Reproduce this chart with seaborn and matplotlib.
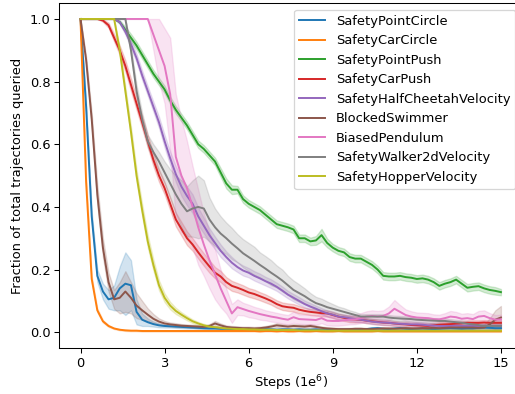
import numpy as np
import pandas as pd
import matplotlib
matplotlib.use("Agg")
import matplotlib.pyplot as plt
import seaborn as sns

# x grid: 0.0, 0.2, ..., 15.0 (76 points), in units of 1e6 steps
steps = [round(0.2 * i, 1) for i in range(76)]

envs = ["SafetyPointCircle", "SafetyCarCircle", "SafetyPointPush", "SafetyCarPush",
        "SafetyHalfCheetahVelocity", "BlockedSwimmer", "BiasedPendulum",
        "SafetyWalker2dVelocity", "SafetyHopperVelocity"]

point_circle = [1.0, 0.72, 0.37, 0.18, 0.13, 0.105, 0.11, 0.14, 0.155, 0.15,
                0.065, 0.04, 0.032, 0.026, 0.022, 0.02, 0.019, 0.018, 0.017, 0.016,
                0.015, 0.014, 0.013, 0.012, 0.012, 0.011, 0.011, 0.010, 0.010, 0.010,
                0.010, 0.009, 0.009, 0.010, 0.009, 0.008, 0.009, 0.009, 0.008, 0.009,
                0.008, 0.008, 0.009, 0.008, 0.008, 0.009, 0.008, 0.008, 0.009, 0.010,
                0.009, 0.010, 0.012, 0.013, 0.011, 0.010, 0.012, 0.013, 0.011, 0.010,
                0.011, 0.012, 0.011, 0.010, 0.011, 0.012, 0.013, 0.012, 0.011, 0.012,
                0.012, 0.014, 0.015, 0.014, 0.013, 0.013]
point_circle_sd = [0.0, 0.01, 0.015, 0.02, 0.025, 0.03, 0.04, 0.07, 0.1, 0.08,
                   0.04, 0.02, 0.012, 0.008, 0.006, 0.005, 0.004, 0.004, 0.004, 0.004,
                   0.003, 0.003, 0.003, 0.003, 0.003, 0.003, 0.003, 0.003, 0.003, 0.003,
                   0.003, 0.003, 0.003, 0.003, 0.003, 0.003, 0.003, 0.003, 0.003, 0.003,
                   0.003, 0.003, 0.003, 0.003, 0.003, 0.003, 0.003, 0.003, 0.003, 0.003,
                   0.003, 0.003, 0.004, 0.004, 0.003, 0.003, 0.003, 0.004, 0.003, 0.003,
                   0.003, 0.003, 0.003, 0.003, 0.003, 0.003, 0.004, 0.004, 0.003, 0.003,
                   0.003, 0.004, 0.004, 0.004, 0.003, 0.003]

car_circle = [1.0, 0.48, 0.17, 0.07, 0.035, 0.02, 0.012, 0.008, 0.006, 0.005,
              0.005, 0.004, 0.004, 0.004, 0.004, 0.004, 0.004, 0.004, 0.004, 0.004,
              0.004, 0.004, 0.004, 0.004, 0.004, 0.004, 0.004, 0.004, 0.004, 0.004,
              0.004, 0.004, 0.003, 0.004, 0.004, 0.003, 0.004, 0.003, 0.003, 0.004,
              0.003, 0.003, 0.004, 0.003, 0.003, 0.003, 0.004, 0.003, 0.003, 0.003,
              0.003, 0.003, 0.003, 0.004, 0.003, 0.003, 0.003, 0.003, 0.003, 0.003,
              0.003, 0.003, 0.003, 0.003, 0.003, 0.003, 0.003, 0.003, 0.003, 0.003,
              0.003, 0.003, 0.003, 0.003, 0.003, 0.003]
car_circle_sd = [0.0, 0.01, 0.01, 0.006, 0.004, 0.003] + [0.002] * 70

point_push = [1.0, 1.0, 1.0, 1.0, 1.0, 1.0, 1.0, 0.99, 0.965, 0.94,
              0.915, 0.885, 0.855, 0.825, 0.8, 0.775, 0.74, 0.71, 0.685, 0.66,
              0.63, 0.6, 0.585, 0.565, 0.545, 0.51, 0.475, 0.455, 0.455, 0.425,
              0.41, 0.4, 0.39, 0.375, 0.36, 0.345, 0.34, 0.335, 0.328, 0.3,
              0.3, 0.29, 0.293, 0.31, 0.285, 0.27, 0.26, 0.255, 0.24, 0.235,
              0.235, 0.225, 0.215, 0.2, 0.18, 0.178, 0.178, 0.18, 0.176, 0.174,
              0.17, 0.172, 0.168, 0.16, 0.148, 0.155, 0.16, 0.168, 0.155, 0.142,
              0.145, 0.147, 0.14, 0.135, 0.132, 0.128]
point_push_sd = [0.0] * 7 + [0.006, 0.01, 0.012,
                 0.012, 0.012, 0.012, 0.012, 0.012, 0.012, 0.012, 0.012, 0.012, 0.012,
                 0.012, 0.012, 0.012, 0.012, 0.012, 0.014, 0.016, 0.014, 0.012, 0.012,
                 0.012, 0.012, 0.012, 0.012, 0.012, 0.012, 0.012, 0.012, 0.012, 0.012,
                 0.012, 0.012, 0.014, 0.02, 0.014, 0.012, 0.012, 0.012, 0.012, 0.012,
                 0.012, 0.012, 0.012, 0.012, 0.012, 0.012, 0.012, 0.012, 0.012, 0.012,
                 0.012, 0.012, 0.012, 0.012, 0.012, 0.012, 0.012, 0.012, 0.012, 0.012,
                 0.012, 0.012, 0.012, 0.012, 0.012, 0.01]

car_push = [1.0, 1.0, 1.0, 1.0, 0.995, 0.98, 0.94, 0.9, 0.85, 0.79,
            0.73, 0.67, 0.61, 0.55, 0.5, 0.46, 0.41, 0.36, 0.33, 0.3,
            0.28, 0.255, 0.232, 0.21, 0.19, 0.178, 0.16, 0.148, 0.142, 0.135,
            0.127, 0.122, 0.115, 0.108, 0.1, 0.09, 0.083, 0.08, 0.078, 0.072,
            0.068, 0.065, 0.063, 0.061, 0.06, 0.055, 0.05, 0.046, 0.042, 0.041,
            0.04, 0.037, 0.035, 0.033, 0.031, 0.03, 0.028, 0.026, 0.025, 0.023,
            0.022, 0.021, 0.02, 0.022, 0.024, 0.025, 0.026, 0.027, 0.028, 0.03,
            0.03, 0.03, 0.031, 0.03, 0.03, 0.03]
car_push_sd = [0.0, 0.0, 0.0, 0.0, 0.004, 0.008, 0.012, 0.015, 0.018, 0.02,
               0.02, 0.02, 0.02, 0.02, 0.02, 0.02, 0.02, 0.022, 0.022, 0.022,
               0.02, 0.02, 0.02, 0.02, 0.018, 0.018, 0.016, 0.016, 0.015, 0.015,
               0.014, 0.014, 0.013, 0.013, 0.012, 0.012, 0.012, 0.012, 0.012, 0.012,
               0.01, 0.01, 0.01, 0.01, 0.01, 0.01, 0.01, 0.01, 0.01, 0.01,
               0.008, 0.008, 0.008, 0.008, 0.008, 0.008, 0.008, 0.008, 0.008, 0.008,
               0.008, 0.008, 0.008, 0.008, 0.008, 0.008, 0.008, 0.008, 0.008, 0.008,
               0.008, 0.008, 0.008, 0.008, 0.008, 0.008]

half_cheetah = [1.0, 1.0, 1.0, 1.0, 1.0, 1.0, 1.0, 0.99, 0.96, 0.92,
                0.875, 0.82, 0.77, 0.72, 0.67, 0.61, 0.555, 0.505, 0.465, 0.435,
                0.41, 0.37, 0.34, 0.31, 0.285, 0.26, 0.24, 0.222, 0.208, 0.197,
                0.19, 0.18, 0.172, 0.163, 0.155, 0.145, 0.133, 0.12, 0.11, 0.1,
                0.09, 0.082, 0.075, 0.067, 0.06, 0.056, 0.05, 0.048, 0.045, 0.042,
                0.04, 0.037, 0.034, 0.032, 0.031, 0.03, 0.028, 0.027, 0.026, 0.025,
                0.025, 0.024, 0.022, 0.021, 0.02, 0.02, 0.02, 0.021, 0.02, 0.02,
                0.02, 0.02, 0.021, 0.02, 0.02, 0.02]
half_cheetah_sd = [0.0] * 7 + [0.005, 0.01, 0.012,
                   0.014, 0.015, 0.015, 0.016, 0.018, 0.02, 0.022, 0.025, 0.03, 0.03,
                   0.03, 0.028, 0.025, 0.022, 0.02, 0.02, 0.018, 0.018, 0.016, 0.016,
                   0.015, 0.015, 0.015, 0.014, 0.014, 0.013, 0.013, 0.012, 0.012, 0.012,
                   0.011, 0.011, 0.01, 0.01, 0.01, 0.01, 0.009, 0.009, 0.009, 0.009,
                   0.008, 0.008, 0.008, 0.008, 0.008, 0.008, 0.007, 0.007, 0.007, 0.007,
                   0.007, 0.007, 0.007, 0.007, 0.007, 0.007, 0.007, 0.007, 0.007, 0.007,
                   0.007, 0.007, 0.007, 0.007, 0.007, 0.007]

blocked_swimmer = [1.0, 0.87, 0.68, 0.44, 0.27, 0.16, 0.105, 0.11, 0.13, 0.11,
                   0.085, 0.07, 0.056, 0.043, 0.034, 0.028, 0.025, 0.023, 0.021, 0.02,
                   0.019, 0.018, 0.017, 0.02, 0.028, 0.022, 0.017, 0.015, 0.014, 0.013,
                   0.013, 0.012, 0.013, 0.015, 0.018, 0.022, 0.02, 0.018, 0.02, 0.019,
                   0.018, 0.02, 0.017, 0.014, 0.012, 0.011, 0.01, 0.01, 0.01, 0.011,
                   0.011, 0.01, 0.01, 0.011, 0.012, 0.012, 0.011, 0.012, 0.013, 0.012,
                   0.012, 0.013, 0.013, 0.014, 0.013, 0.014, 0.015, 0.015, 0.015, 0.015,
                   0.015, 0.014, 0.015, 0.025, 0.04, 0.047]
blocked_swimmer_sd = [0.0, 0.01, 0.02, 0.03, 0.03, 0.03, 0.03, 0.05, 0.065, 0.05,
                      0.04, 0.03, 0.02, 0.015, 0.01, 0.008, 0.006, 0.006, 0.005, 0.005,
                      0.005, 0.005, 0.005, 0.006, 0.008, 0.006, 0.005, 0.005, 0.005, 0.005,
                      0.005, 0.005, 0.005, 0.005, 0.006, 0.007, 0.006, 0.006, 0.006, 0.006,
                      0.006, 0.006, 0.005, 0.005, 0.004, 0.004, 0.004, 0.004, 0.004, 0.004,
                      0.004, 0.004, 0.004, 0.004, 0.004, 0.004, 0.004, 0.004, 0.004, 0.004,
                      0.004, 0.004, 0.004, 0.004, 0.004, 0.004, 0.005, 0.005, 0.005, 0.005,
                      0.005, 0.005, 0.01, 0.02, 0.03, 0.037]

biased_pendulum = [1.0, 1.0, 1.0, 1.0, 1.0, 1.0, 1.0, 1.0, 1.0, 1.0,
                   1.0, 1.0, 1.0, 0.95, 0.9, 0.85, 0.76, 0.56, 0.5, 0.46,
                   0.4, 0.335, 0.28, 0.23, 0.185, 0.14, 0.1, 0.06, 0.08, 0.074,
                   0.068, 0.063, 0.058, 0.054, 0.05, 0.047, 0.043, 0.04, 0.048, 0.042,
                   0.041, 0.04, 0.039, 0.045, 0.037, 0.036, 0.036, 0.038, 0.04, 0.041,
                   0.045, 0.05, 0.052, 0.05, 0.052, 0.06, 0.075, 0.065, 0.055, 0.05,
                   0.047, 0.046, 0.045, 0.042, 0.041, 0.045, 0.05, 0.048, 0.043, 0.045,
                   0.042, 0.05, 0.052, 0.045, 0.04, 0.041]
biased_pendulum_sd = [0.0] * 13 + [0.05, 0.1, 0.12, 0.18, 0.2, 0.18, 0.15,
                      0.13, 0.12, 0.1, 0.09, 0.08, 0.06, 0.04, 0.03, 0.025, 0.02,
                      0.02, 0.018, 0.018, 0.016, 0.016, 0.015, 0.015, 0.015, 0.018, 0.015,
                      0.015, 0.015, 0.015, 0.016, 0.015, 0.015, 0.015, 0.015, 0.015, 0.015,
                      0.016, 0.017, 0.018, 0.018, 0.018, 0.022, 0.028, 0.022, 0.018, 0.017,
                      0.016, 0.016, 0.016, 0.015, 0.015, 0.016, 0.018, 0.017, 0.016, 0.016,
                      0.016, 0.018, 0.018, 0.016, 0.015, 0.015]

walker2d = [1.0, 1.0, 1.0, 1.0, 1.0, 1.0, 1.0, 1.0, 1.0, 0.9,
            0.77, 0.68, 0.61, 0.575, 0.545, 0.51, 0.475, 0.44, 0.41, 0.386,
            0.395, 0.4, 0.395, 0.36, 0.335, 0.315, 0.3, 0.283, 0.268, 0.252,
            0.24, 0.228, 0.215, 0.203, 0.19, 0.178, 0.165, 0.15, 0.135, 0.125,
            0.115, 0.103, 0.093, 0.087, 0.08, 0.075, 0.07, 0.065, 0.06, 0.055,
            0.05, 0.05, 0.05, 0.05, 0.05, 0.047, 0.045, 0.044, 0.043, 0.042,
            0.04, 0.039, 0.038, 0.037, 0.036, 0.036, 0.034, 0.032, 0.03, 0.027,
            0.025, 0.023, 0.02, 0.02, 0.02, 0.02]
walker2d_sd = [0.0] * 9 + [0.012,
               0.02, 0.02, 0.02, 0.025, 0.03, 0.035, 0.045, 0.06, 0.075, 0.08,
               0.09, 0.1, 0.09, 0.07, 0.06, 0.055, 0.05, 0.05, 0.045, 0.045,
               0.045, 0.045, 0.04, 0.04, 0.04, 0.035, 0.035, 0.03, 0.03, 0.028,
               0.025, 0.022, 0.02, 0.02, 0.018, 0.015, 0.012, 0.012, 0.01, 0.01,
               0.008, 0.008, 0.008, 0.008, 0.008, 0.008, 0.008, 0.008, 0.008, 0.008,
               0.008, 0.008, 0.008, 0.008, 0.008, 0.008, 0.008, 0.008, 0.008, 0.008,
               0.008, 0.008, 0.008, 0.008, 0.008, 0.008]

hopper = [1.0, 1.0, 1.0, 1.0, 1.0, 1.0, 1.0, 0.9, 0.77, 0.64,
          0.5, 0.39, 0.29, 0.215, 0.15, 0.11, 0.085, 0.068, 0.056, 0.045,
          0.035, 0.028, 0.022, 0.018, 0.016, 0.014, 0.012, 0.011, 0.01, 0.01,
          0.009, 0.009, 0.008, 0.008, 0.008, 0.007, 0.007, 0.007, 0.007, 0.006,
          0.006, 0.006, 0.006, 0.006, 0.005, 0.005, 0.005, 0.005, 0.005, 0.005,
          0.005, 0.005, 0.005, 0.005, 0.005, 0.005, 0.005, 0.005, 0.005, 0.005,
          0.005, 0.005, 0.005, 0.005, 0.005, 0.005, 0.005, 0.005, 0.005, 0.005,
          0.005, 0.005, 0.005, 0.005, 0.005, 0.005]
hopper_sd = [0.0] * 7 + [0.01, 0.015, 0.018,
             0.02, 0.02, 0.02, 0.018, 0.016, 0.014, 0.012, 0.01, 0.008, 0.007,
             0.006, 0.005, 0.005, 0.004, 0.004, 0.004, 0.003, 0.003, 0.003, 0.003] + [0.002] * 46

means = [point_circle, car_circle, point_push, car_push, half_cheetah,
         blocked_swimmer, biased_pendulum, walker2d, hopper]
spreads = [point_circle_sd, car_circle_sd, point_push_sd, car_push_sd, half_cheetah_sd,
           blocked_swimmer_sd, biased_pendulum_sd, walker2d_sd, hopper_sd]

rows = []
for env, m, s in zip(envs, means, spreads):
    for x, v, w in zip(steps, m, s):
        for val in (v - w, v, v + w):
            rows.append({"step": x, "frac": val, "env": env})
df = pd.DataFrame(rows)

palette = ["#1f77b4", "#ff7f0e", "#2ca02c", "#d62728", "#9467bd",
           "#8c564b", "#e377c2", "#7f7f7f", "#bcbd22"]

DPI = 93.5
fig = plt.figure(figsize=(515 / DPI, 394 / DPI), dpi=DPI)
ax = fig.add_axes([0.1155, 0.117, 0.898, 0.8746])
sns.lineplot(data=df, x="step", y="frac", hue="env", hue_order=envs,
             palette=palette, errorbar=("pi", 100), estimator="mean",
             linewidth=1.5, ax=ax)
ax.set_xlim(-0.75, 15.75)
ax.set_ylim(-0.05, 1.05)
ax.set_xticks([0, 3, 6, 9, 12, 15])
ax.set_yticks([0.0, 0.2, 0.4, 0.6, 0.8, 1.0])
ax.set_xlabel("Steps (1e$^6$)", labelpad=2.5)
ax.set_ylabel("Fraction of total trajectories queried")
sns.move_legend(ax, "upper right", title=None, frameon=True)
fig.savefig("out.png", dpi=DPI)
